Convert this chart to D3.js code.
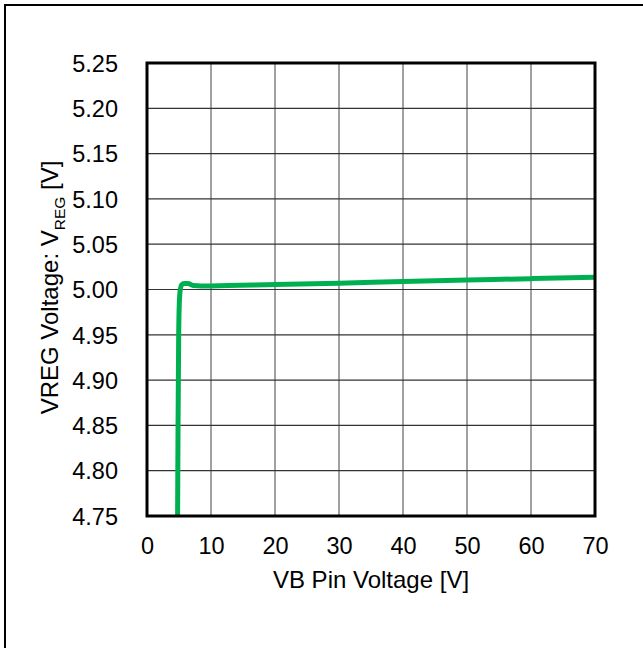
<!DOCTYPE html>
<html>
<head>
<meta charset="utf-8">
<script src="https://cdn.jsdelivr.net/npm/d3@7/dist/d3.min.js"></script>
<style>
  html, body { margin: 0; padding: 0; background: #fff; overflow: hidden; }
  svg { display: block; }
  text { font-family: Arial, "Liberation Sans", sans-serif; fill: #000; }
</style>
</head>
<body>
<svg id="chart" width="643" height="648"></svg>
<script>
// ---- data ----
const vbPin = [4.78, 4.85, 4.95, 5.05, 5.2, 5.4, 5.8, 6.4, 7.2, 8.5, 10, 20, 30, 40, 50, 60, 70];
const vReg  = [4.75, 4.85, 4.95, 4.985, 5.0, 5.005, 5.0065, 5.0065, 5.0045, 5.004, 5.004, 5.0055, 5.007, 5.0088, 5.0104, 5.012, 5.0134];
const xTicks = [0, 10, 20, 30, 40, 50, 60, 70];
const yTicks = [4.75, 4.80, 4.85, 4.90, 4.95, 5.00, 5.05, 5.10, 5.15, 5.20, 5.25];
const xTitle = "VB Pin Voltage [V]";
const yTitleMain = "VREG Voltage: V";
const yTitleSub = "REG";
const yTitleEnd = " [V]";

// ---- layout ----
const svg = d3.select("#chart");
const L = 147, R = 595, T = 63, B = 516;
const x = d3.scaleLinear().domain([0, 70]).range([L, R]);
const y = d3.scaleLinear().domain([4.75, 5.25]).range([B, T]);

// outer frame: only top and left edges are visible
svg.append("path").attr("d", "M5,648 L5,5 L643,5")
  .attr("fill", "none").attr("stroke", "#000").attr("stroke-width", 2);

// grid
const g = svg.append("g");
g.selectAll(".vg").data(xTicks.slice(1, -1)).enter().append("line")
  .attr("x1", d => x(d)).attr("x2", d => x(d)).attr("y1", T).attr("y2", B)
  .attr("stroke", "#808080").attr("stroke-width", 1.5);
g.selectAll(".hg").data(yTicks.slice(1, -1)).enter().append("line")
  .attr("x1", L).attr("x2", R).attr("y1", d => y(d)).attr("y2", d => y(d))
  .attr("stroke", "#333").attr("stroke-width", 1.2);

// axes (labels only)
const xAxis = d3.axisBottom(x).tickValues(xTicks).tickSize(0).tickPadding(0).tickFormat(d3.format("d"));
const xa = svg.append("g").attr("transform", `translate(0,${B})`).call(xAxis);
xa.select(".domain").remove();
xa.selectAll("text").attr("font-size", 23.5).attr("dy", null).attr("y", 38)
  .style("font-family", "Arial, 'Liberation Sans', sans-serif").attr("fill", "#000");

const yAxis = d3.axisLeft(y).tickValues(yTicks).tickSize(0).tickPadding(29).tickFormat(d3.format(".2f"));
const ya = svg.append("g").attr("transform", `translate(${L},0)`).call(yAxis);
ya.select(".domain").remove();
ya.selectAll("text").attr("font-size", 23.5).attr("dy", "0.35em")
  .style("font-family", "Arial, 'Liberation Sans', sans-serif").attr("fill", "#000");

// curve
const pts = vbPin.map((v, i) => [v, vReg[i]]);
const line = d3.line().x(d => x(d[0])).y(d => y(d[1])).curve(d3.curveMonotoneX);
svg.append("path").datum(pts).attr("d", line)
  .attr("fill", "none").attr("stroke", "#00B050").attr("stroke-width", 5)
  .attr("stroke-linejoin", "round").attr("stroke-linecap", "butt");

// plot border
svg.append("rect").attr("x", L).attr("y", T).attr("width", R - L).attr("height", B - T)
  .attr("fill", "none").attr("stroke", "#000").attr("stroke-width", 3);

// titles
svg.append("text").attr("x", (L + R) / 2).attr("y", 588).attr("text-anchor", "middle")
  .attr("font-size", 24).text(xTitle);

const yt = svg.append("text").attr("transform", `translate(58,${(T + B) / 2 - 2}) rotate(-90)`)
  .attr("text-anchor", "middle").attr("font-size", 24);
yt.append("tspan").text(yTitleMain);
yt.append("tspan").attr("font-size", 15.5).attr("dy", 7).text(yTitleSub);
yt.append("tspan").attr("dy", -7).text(yTitleEnd);
</script>
</body>
</html>
